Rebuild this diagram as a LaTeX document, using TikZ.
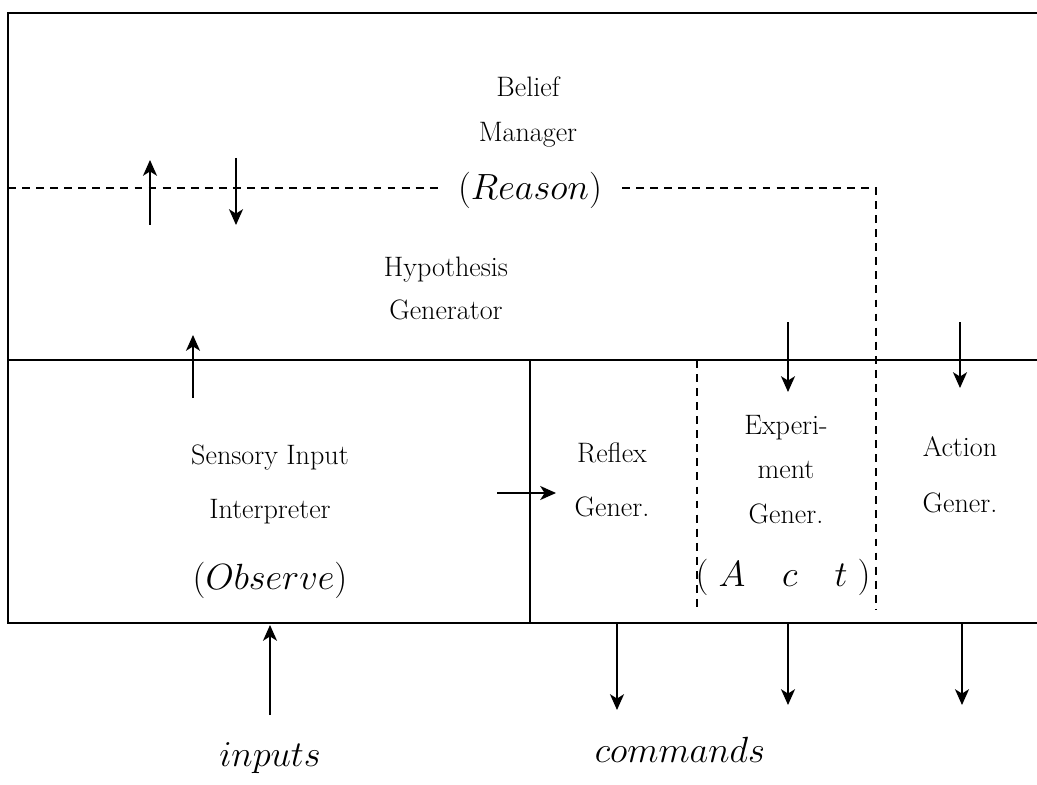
\documentclass[tikz,border=0pt]{standalone}
\usetikzlibrary{arrows.meta}

\tikzset{
  frameline/.style={line width=1.4pt},
  sepdash/.style={line width=1pt, dash pattern=on 4.5pt off 3.5pt},
  flow/.style={line width=0.8pt, -{Stealth[length=9pt,width=8pt,inset=2.5pt]}},
  lbl/.style={font=\fontsize{16}{19}\selectfont, inner sep=0pt},
  big/.style={font=\fontsize{21}{25}\selectfont, inner sep=0pt}
}

\begin{document}
\begin{tikzpicture}[x=0.2cm, y=0.2cm]
  \useasboundingbox (0,0) rectangle (103.7,78.4);

  % frame
  \draw[frameline] (103.7,77.1) -- (0.8,77.1) -- (0.8,16.1) -- (103.7,16.1);
  \draw[frameline] (0.8,42.4) -- (103.7,42.4);
  \draw[frameline] (53,42.4) -- (53,16.1);

  % dashed boundaries
  \draw[sepdash] (0.8,59.6) -- (43.8,59.6);
  \draw[sepdash] (62.2,59.6) -- (87.6,59.6) -- (87.6,17.4);
  \draw[sepdash] (69.7,42.4) -- (69.7,17.4);

  % texts
  \node[lbl] (belief) at (52.8,69.7) {Belief};
  \node[lbl] (manager) at (52.8,64.9) {Manager};
  \node[big] (reason) at (53,59.4) {$(Reason)$};
  \node[lbl] (hypo) at (44.6,51.4) {Hypothesis};
  \node[lbl] (gen) at (44.6,47.4) {Generator};
  \node[lbl] (sensory) at (27,32.6) {Sensory Input};
  \node[lbl] (interp) at (27,27.2) {Interpreter};
  \node[big] (observe) at (27,20.4) {$(Observe)$};
  \node[lbl] (reflex) at (61.2,33.1) {Reflex};
  \node[lbl] (reflexgen) at (61.2,27.7) {Gener.};
  \node[lbl] (exper) at (78.6,35.6) {Experi-};
  \node[lbl] (ment) at (78.6,31.4) {ment};
  \node[lbl] (expergen) at (78.6,27.0) {Gener.};
  \node[lbl] (action) at (96,33.7) {Action};
  \node[lbl] (actiongen) at (96,28.1) {Gener.};
  \node[big] (act) at (78.3,20.7) {$(\;A\quad c\quad t\;)$};
  \node[big] (inputs) at (27,2.6) {$inputs$};
  \node[big] (commands) at (68,3.4) {$commands$};

  % arrows
  \draw[flow] (15,55.9) -- (15,62.4);
  \draw[flow] (23.6,62.6) -- (23.6,55.9);
  \draw[flow] (19.3,38.6) -- (19.3,44.9);
  \draw[flow] (78.8,46.2) -- (78.8,39.2);
  \draw[flow] (96,46.2) -- (96,39.6);
  \draw[flow] (49.7,29.1) -- (55.6,29.1);
  \draw[flow] (27,6.9) -- (27,15.9);
  \draw[flow] (61.7,16.1) -- (61.7,7.4);
  \draw[flow] (78.8,16.1) -- (78.8,7.9);
  \draw[flow] (96.2,16.1) -- (96.2,7.9);
\end{tikzpicture}
\end{document}
